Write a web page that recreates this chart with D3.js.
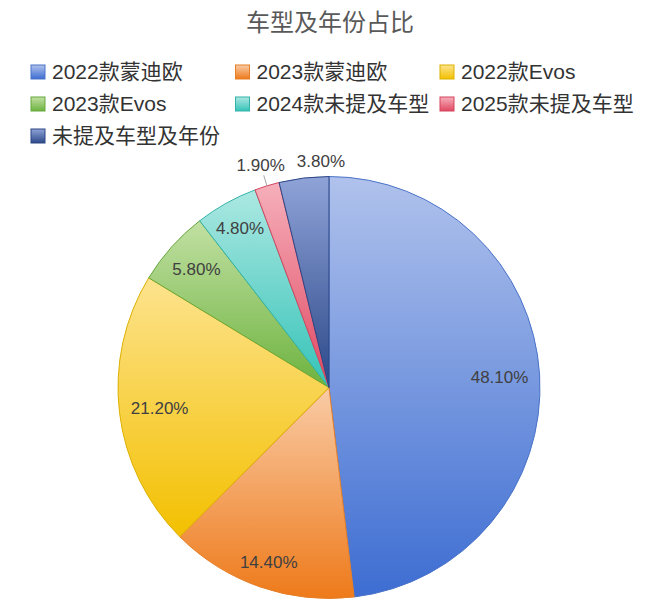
<!DOCTYPE html>
<html>
<head>
<meta charset="utf-8">
<script src="https://cdn.jsdelivr.net/npm/d3@7"></script>
<style>
  body { margin: 0; background: #fff; }
  text { font-family: "Liberation Sans", Arial, "Noto Sans CJK SC", sans-serif; }
</style>
</head>
<body>
<div id="chart"></div>
<script>
const title = '车型及年份占比';
const categories = ['2022款蒙迪欧', '2023款蒙迪欧', '2022款Evos', '2023款Evos', '2024款未提及车型', '2025款未提及车型', '未提及车型及年份'];
const shares = [48.1, 14.4, 21.2, 5.8, 4.8, 1.9, 3.8];

// palette: light top, dark bottom, edge
const topColors = ['#b0c2ec', '#f9cba6', '#fde38e', '#c2e0a3', '#ace8e2', '#f6b0bb', '#8fa3d8'];
const bottomColors = ['#3d6dd2', '#ee7a1a', '#f3c000', '#6db33f', '#35c3b8', '#e04862', '#2b4888'];
const strokeColors = ['#4a73c8', '#e67f26', '#dcb000', '#67a83c', '#32b3a9', '#d4455c', '#2c4684'];

const width = 660, height = 615;
const cx = 329, cy = 387.5, radius = 211;

const svg = d3.select('#chart').append('svg')
  .attr('width', width)
  .attr('height', height);

const defs = svg.append('defs');
categories.forEach((c, i) => {
  const g = defs.append('linearGradient')
    .attr('id', 'grad' + i)
    .attr('x1', 0).attr('y1', 0).attr('x2', 0).attr('y2', 1);
  g.append('stop').attr('offset', '0%').attr('stop-color', topColors[i]);
  g.append('stop').attr('offset', '100%').attr('stop-color', bottomColors[i]);
});

svg.append('text')
  .attr('x', width / 2)
  .attr('y', 23)
  .attr('dy', '0.35em')
  .attr('text-anchor', 'middle')
  .attr('font-size', 24)
  .attr('fill', '#595959')
  .text(title);

// legend, 3 columns
const legend = svg.append('g');
const item = legend.selectAll('g')
  .data(categories)
  .join('g')
  .attr('transform', (d, i) => `translate(${31 + (i % 3) * 204.5},${72 + Math.floor(i / 3) * 32})`);
item.append('rect')
  .attr('x', 0).attr('y', -7)
  .attr('width', 14).attr('height', 14)
  .attr('fill', (d, i) => `url(#grad${i})`)
  .attr('stroke', (d, i) => strokeColors[i])
  .attr('stroke-width', 1);
item.append('text')
  .attr('x', 21)
  .attr('dy', '0.35em')
  .attr('font-size', 21)
  .attr('fill', '#333')
  .text(d => d);

// pie
const pie = d3.pie().sort(null).value(d => d);
const arcs = pie(shares);
const arc = d3.arc().innerRadius(0).outerRadius(radius);

const g = svg.append('g').attr('transform', `translate(${cx},${cy})`);

g.selectAll('path')
  .data(arcs)
  .join('path')
  .attr('d', arc)
  .attr('fill', (d, i) => `url(#grad${i})`)
  .attr('stroke', (d, i) => strokeColors[i])
  .attr('stroke-width', 1)
  .attr('stroke-linejoin', 'round');

// labels: inside for big slices, outside for small ones
const fmt = d => d3.format('.2f')(d) + '%';
const placed = [];
arcs.forEach((a, i) => {
  const mid = (a.startAngle + a.endAngle) / 2;
  const sx = Math.sin(mid), sy = -Math.cos(mid);
  const t = g.append('text')
    .attr('text-anchor', 'middle')
    .attr('dy', '0.35em')
    .attr('font-size', 17)
    .attr('fill', '#404040')
    .text(fmt(a.data));
  const w = t.node().getComputedTextLength();
  const h = 13;
  const extent = w / 2 * Math.abs(sx) + h / 2 * Math.abs(sy);
  const outside = a.data < 4;
  const dist = outside ? radius + 8 + extent : 200 - extent;
  let x = dist * sx, y = dist * sy;
  if (outside) {
    const prev = placed[placed.length - 1];
    if (prev && Math.abs(prev.y - y) < h + 4 && x - w / 2 < prev.x + prev.w / 2 + 12) {
      x = prev.x + prev.w / 2 + 12 + w / 2;
    }
    placed.push({ x, y, w });
    if (a.data < 2.5) {
      g.append('line')
        .attr('x1', radius * sx).attr('y1', radius * sy)
        .attr('x2', (radius + 11) * sx).attr('y2', (radius + 11) * sy)
        .attr('stroke', '#a6a6a6')
        .attr('stroke-width', 1);
    }
  }
  t.attr('x', x).attr('y', y);
});
</script>
</body>
</html>
